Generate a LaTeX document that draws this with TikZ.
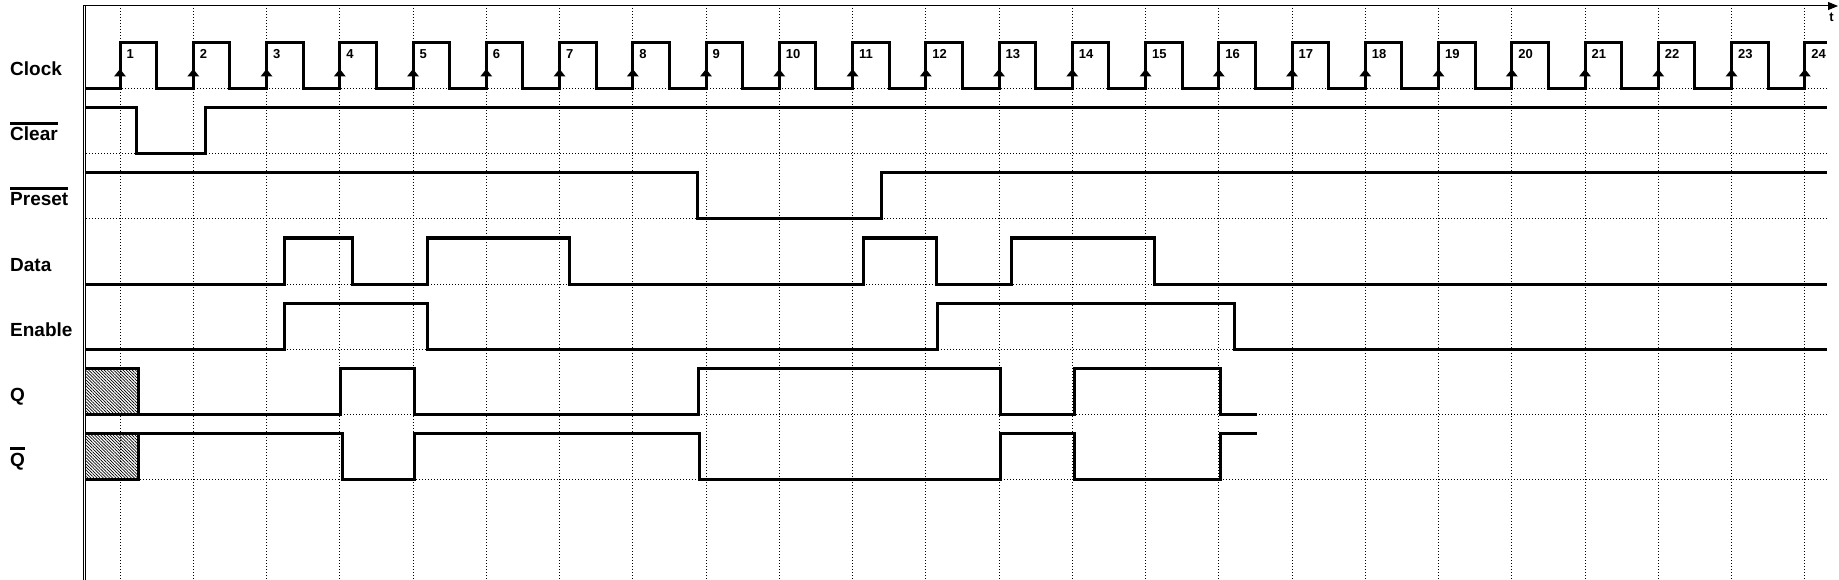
\documentclass[tikz,border=0pt]{standalone}
\usepackage{fontspec}
\setmainfont{Liberation Sans}
\usetikzlibrary{arrows.meta,patterns.meta}

\begin{document}
\begin{tikzpicture}[x=1pt,y=-1pt,
  every node/.style={font=\bfseries\fontsize{19}{22}\selectfont},
  lbl/.style={anchor=base west,inner sep=0pt,text height=14pt},
  num/.style={anchor=base west,inner sep=0pt,font=\bfseries\fontsize{13}{15}\selectfont},
  wave/.style={line width=3pt},
  dots/.style={line width=1pt,dotted},
  bar/.style={line width=2.5pt},
  hatch/.style={pattern={Lines[angle=-45,distance=2.2pt,line width=0.7pt]}}]
\useasboundingbox (0,0) rectangle (1839,580);
% grid
\foreach \k in {1,...,24}
  \draw[dots] ({120+73.25*(\k-1)},8) -- ({120+73.25*(\k-1)},580);
\foreach \y in {89,154,...,479}
  \draw[dots] (86,\y) -- (1827,\y);
% axes
\draw[line width=1pt,-{Triangle[length=10pt,width=8pt]}] (83,6) -- (1838,6);
\node[num,anchor=base] (t) at (1831.5,22) {t};
\draw[line width=1pt] (83,6) -- (83,580);
\draw[line width=1pt] (85.3,6) -- (85.3,580);
% signal names
\node[lbl] (clock) at (10,76) {Clock};
\node[lbl] (clear) at (10,141) {Clear};
\node[lbl] (preset) at (10,206) {Preset};
\node[lbl] (data) at (10,271) {Data};
\node[lbl] (enable) at (10,336) {Enable};
\node[lbl] (q) at (10,401) {Q};
\node[lbl] (qbar) at (10,466) {Q};
\foreach \n in {clear,preset,qbar}
  \draw[bar] ([yshift=3.5pt]\n.north west) -- ([yshift=3.5pt]\n.north east);
% Clock
\draw[wave] (86,89) foreach \k in {0,...,22} {
    -- ({120+73.25*\k},89) -- ({120+73.25*\k},43) -- ({156.6+73.25*\k},43) -- ({156.6+73.25*\k},89)}
  -- (1804.75,89) -- (1804.75,43) -- (1827,43);
\foreach \k in {1,...,24} {
  \fill ({114+73.25*(\k-1)},76.5) -- ({120+73.25*(\k-1)},69) -- ({126+73.25*(\k-1)},76.5) -- cycle;
  \node[num] (c\k) at ({126.5+73.25*(\k-1)},58.5) {\k};
}
% Clear
\draw[wave] (86,108) -- (136,108) -- (136,154) -- (205,154) -- (205,108) -- (1827,108);
% Preset
\draw[wave] (86,173) -- (697.5,173) -- (697.5,219) -- (881.5,219) -- (881.5,173) -- (1827,173);
% Data
\draw[wave] (86,284) -- (284.3,284) -- (284.3,238) -- (352,238) -- (352,284) -- (427,284) -- (427,238)
  -- (569,238) -- (569,284) -- (863,284) -- (863,238) -- (936,238) -- (936,284) -- (1011,284)
  -- (1011,238) -- (1154.5,238) -- (1154.5,284) -- (1827,284);
% Enable
\draw[wave] (86,349) -- (284.3,349) -- (284.3,303) -- (427.5,303) -- (427.5,349) -- (937,349)
  -- (937,303) -- (1234.3,303) -- (1234.3,349) -- (1827,349);
% Q
\fill[hatch] (86,368) rectangle (138,414);
\draw[wave] (86,368) -- (138,368) -- (138,414);
\draw[wave] (86,414) -- (340.7,414) -- (340.7,368) -- (414,368) -- (414,414) -- (698,414) -- (698,368)
  -- (1000.7,368) -- (1000.7,414) -- (1074,414) -- (1074,368) -- (1220,368) -- (1220,414) -- (1257,414);
% Q bar
\fill[hatch] (86,433) rectangle (138,479);
\draw[wave] (86,479) -- (138,479) -- (138,433);
\draw[wave] (86,433) -- (342,433) -- (342,479) -- (414,479) -- (414,433) -- (699,433) -- (699,479)
  -- (1000.7,479) -- (1000.7,433) -- (1074,433) -- (1074,479) -- (1220,479) -- (1220,433) -- (1257,433);
\end{tikzpicture}
\end{document}
